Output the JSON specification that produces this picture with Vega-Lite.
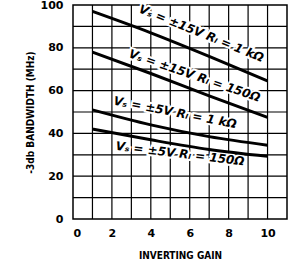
{
  "$schema": "https://vega.github.io/schema/vega-lite/v6.json",
  "autosize": "none",
  "width": 214,
  "height": 214,
  "padding": {"left": 73, "top": 5, "right": 1, "bottom": 52},
  "background": "white",
  "config": {
    "view": {"stroke": "black", "strokeWidth": 1.5}
  },
  "datasets": {
    "curves": [
      {"series": "a", "gain": 1, "bw": 97},
      {"series": "a", "gain": 4, "bw": 87},
      {"series": "a", "gain": 7, "bw": 76},
      {"series": "a", "gain": 10, "bw": 64.5},
      {"series": "b", "gain": 1, "bw": 78},
      {"series": "b", "gain": 4, "bw": 68},
      {"series": "b", "gain": 7, "bw": 57.5},
      {"series": "b", "gain": 10, "bw": 47.5},
      {"series": "c", "gain": 1, "bw": 51},
      {"series": "c", "gain": 4, "bw": 44},
      {"series": "c", "gain": 7, "bw": 38.5},
      {"series": "c", "gain": 10, "bw": 34.5},
      {"series": "d", "gain": 1, "bw": 42},
      {"series": "d", "gain": 4, "bw": 37},
      {"series": "d", "gain": 7, "bw": 32.5},
      {"series": "d", "gain": 10, "bw": 29.3}
    ],
    "labels": [
      {"gain": 6.6, "bw": 86.8, "angle": 22, "text": "Vₛ = ±15V  Rₗ = 1 kΩ"},
      {"gain": 6.25, "bw": 67, "angle": 19, "text": "Vₛ = ±15V  Rₗ = 150Ω"},
      {"gain": 5.25, "bw": 49.8, "angle": 11, "text": "Vₛ = ±5V  Rₗ = 1 kΩ"},
      {"gain": 5.5, "bw": 30.5, "angle": 7, "text": "Vₛ = ±5V  Rₗ = 150Ω"}
    ],
    "xgrid": [{"v": 1}, {"v": 2}, {"v": 3}, {"v": 4}, {"v": 5}, {"v": 6}, {"v": 7}, {"v": 8}, {"v": 9}, {"v": 10}],
    "ygrid": [{"v": 10}, {"v": 20}, {"v": 30}, {"v": 40}, {"v": 50}, {"v": 60}, {"v": 70}, {"v": 80}, {"v": 90}]
  },
  "layer": [
    {
      "data": {"name": "xgrid"},
      "mark": {"type": "rule", "color": "black", "strokeWidth": 1.2},
      "encoding": {
        "x": {
          "field": "v", "type": "quantitative",
          "scale": {"domain": [0, 11], "nice": false},
          "axis": {
            "values": [0,2,4,6,8,10],
            "grid": false, "domain": false, "ticks": false,
            "labelPadding": 8, "labelFont": "DejaVu Sans", "labelFontWeight": "bold", "labelFontSize": 11, "labelColor": "black",
            "title": "INVERTING GAIN", "titleFont": "DejaVu Sans Condensed", "titleFontWeight": "bold", "titleFontSize": 10,
            "titleColor": "black", "titlePadding": 12
          }
        }
      }
    },
    {
      "data": {"name": "ygrid"},
      "mark": {"type": "rule", "color": "black", "strokeWidth": 1.2},
      "encoding": {
        "y": {
          "field": "v", "type": "quantitative",
          "scale": {"domain": [0, 100], "nice": false},
          "axis": {
            "values": [0,20,40,60,80,100],
            "grid": false, "domain": false, "ticks": false,
            "labelPadding": 10, "labelFont": "DejaVu Sans", "labelFontWeight": "bold", "labelFontSize": 11, "labelColor": "black",
            "title": "-3db BANDWIDTH (MHz)", "titleFont": "DejaVu Sans Condensed", "titleFontWeight": "bold", "titleFontSize": 10,
            "titleColor": "black", "titlePadding": 5
          }
        }
      }
    },
    {
      "data": {"name": "labels"},
      "mark": {"type": "text", "font": "DejaVu Sans", "fontStyle": "italic", "fontWeight": "bold", "fontSize": 12, "color": "white", "stroke": "white", "strokeWidth": 4, "align": "center", "baseline": "middle"},
      "encoding": {
        "x": {"field": "gain", "type": "quantitative"},
        "y": {"field": "bw", "type": "quantitative"},
        "angle": {"field": "angle", "type": "quantitative", "scale": null},
        "text": {"field": "text"}
      }
    },
    {
      "data": {"name": "curves"},
      "mark": {"type": "line", "color": "black", "strokeWidth": 3, "interpolate": "monotone"},
      "encoding": {
        "x": {"field": "gain", "type": "quantitative"},
        "y": {"field": "bw", "type": "quantitative"},
        "detail": {"field": "series"}
      }
    },
    {
      "data": {"name": "labels"},
      "mark": {"type": "text", "font": "DejaVu Sans", "fontStyle": "italic", "fontWeight": "bold", "fontSize": 12, "color": "black", "align": "center", "baseline": "middle"},
      "encoding": {
        "x": {"field": "gain", "type": "quantitative"},
        "y": {"field": "bw", "type": "quantitative"},
        "angle": {"field": "angle", "type": "quantitative", "scale": null},
        "text": {"field": "text"}
      }
    }
  ]
}
